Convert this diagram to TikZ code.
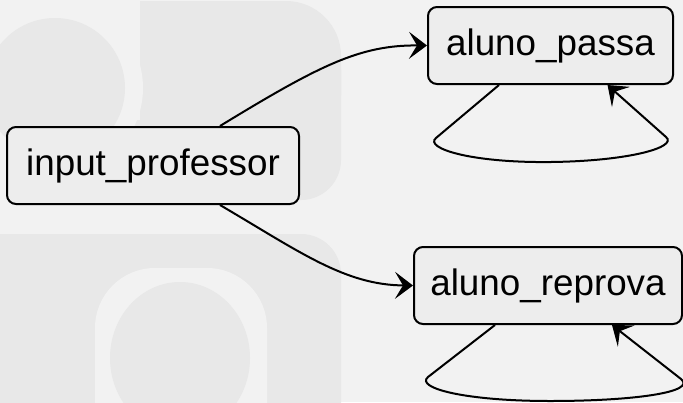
\documentclass[tikz,border=0pt]{standalone}
\usepackage{fontspec}
\setmainfont{Liberation Sans}
\usetikzlibrary{arrows.meta}
\definecolor{bgc}{HTML}{F2F2F2}
\definecolor{shp}{HTML}{E8E8E8}
\definecolor{boxc}{HTML}{EDEDED}
\begin{document}
\begin{tikzpicture}[x=1pt,y=-1pt,
  state/.style={draw=black, line width=2pt, rounded corners=9pt, fill=boxc,
    minimum height=77pt, inner sep=0pt, font=\fontsize{36.8}{40}\selectfont, text=black},
  arr/.style={draw=black, line width=2pt, -{Stealth[length=18pt,width=27pt,inset=8pt]}},
]
\useasboundingbox (0,0) rectangle (683,402);
\fill[bgc] (0,0) rectangle (683,402);
\begin{scope}
  \clip (0,0) rectangle (683,402);
  % upper background shape
  \fill[shp, rounded corners=55pt] (140,1) rectangle (341,150);
  \fill[shp, rounded corners=40pt] (140,30) rectangle (341,200);
  \fill[shp] (140,1) rectangle (250,200);
  \fill[shp] (60,120) rectangle (200,200);
  \fill[bgc] (55,88) circle[radius=88];
  \fill[shp] (55,88) circle[radius=70];
  % lower background shape
  \fill[shp, rounded corners=40pt] (-60,234) rectangle (341,460);
  \fill[bgc, rounded corners=60pt] (95,268) rectangle (267,470);
  \fill[shp] (180,358) ellipse[x radius=70, y radius=76];
\end{scope}

\node[state, minimum width=292pt] (ip) at (153,165.5) {input\_professor};
\node[state, minimum width=245pt] (ap) at (550.5,45.5) {aluno\_passa};
\node[state, minimum width=268pt] (ar) at (548,285.5) {aluno\_reprova};

\draw[arr] ([xshift=67pt]ip.north) .. controls (320,65) and (360,45) .. (ap.west);
\draw[arr] ([xshift=67pt]ip.south) .. controls (300,252) and (345,285) .. (ar.west);

\draw[arr] ([xshift=-51.5pt]ap.south) -- (436,138)
  .. controls (424,148) and (470,163) .. (551,162)
  .. controls (630,161) and (678,147) .. (666,137)
  -- ([xshift=57pt]ap.south);
\draw[arr] ([xshift=-53pt]ar.south) -- (428,377)
  .. controls (415,388) and (465,401) .. (550,401)
  .. controls (635,401) and (697,392) .. (681,379)
  -- ([xshift=64pt]ar.south);
\end{tikzpicture}
\end{document}
